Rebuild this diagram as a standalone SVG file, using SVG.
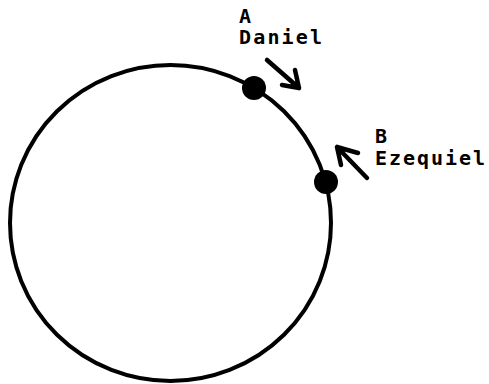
<svg xmlns="http://www.w3.org/2000/svg" width="489" height="384" viewBox="0 0 489 384">
<style>
.ln{fill:none;stroke:#000;stroke-width:4;stroke-linecap:round;stroke-linejoin:round}
.ar{stroke-width:4.5}
.lb{font-family:"DejaVu Sans Mono","Liberation Mono",monospace;font-weight:bold;font-size:20px;fill:#000}
</style>
<rect width="489" height="384" fill="#fff"/>
<g id="circle">
<ellipse cx="170.5" cy="223" rx="160.5" ry="158" class="ln"/>
</g>
<g id="nodeA">
<circle cx="254" cy="88" r="12" fill="#000"/>
<text class="lb" x="239" y="23">A</text>
<text class="lb" x="239" y="44" textLength="83" lengthAdjust="spacing">Daniel</text>
</g>
<g id="nodeB">
<circle cx="326" cy="182" r="12" fill="#000"/>
<text class="lb" x="375" y="143">B</text>
<text class="lb" x="375" y="165" textLength="110" lengthAdjust="spacing">Ezequiel</text>
</g>
<g id="connectors">
<path class="ln ar" d="M267 60 L299 88 M282 85 L299 88 L295 70"/>
<path class="ln ar" d="M367 178 L337 147 M341 165 L337 147 L358 153"/>
</g>
</svg>
